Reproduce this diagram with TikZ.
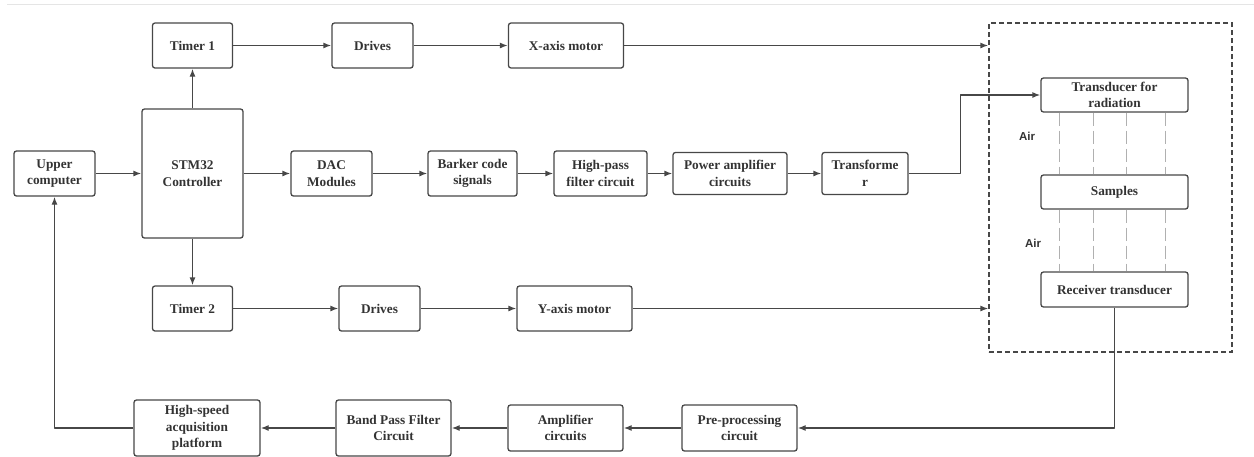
\documentclass[tikz,border=0pt]{standalone}
\usepackage{fontspec}
\setmainfont{Liberation Serif}
\newfontfamily\airfont{Liberation Sans}
\usetikzlibrary{arrows.meta}
\definecolor{linegray}{HTML}{474747}
\definecolor{textgray}{HTML}{333333}
\definecolor{airgray}{HTML}{B0B0B0}

\begin{document}
\begin{tikzpicture}[x=1pt,y=-1pt]
\tikzstyle{every node}+=[inner sep=0pt]
\tikzstyle{block}=[draw=linegray, line width=1.3pt, rounded corners=2.5pt, align=center, text=textgray, font=\fontsize{13.3}{16.5}\selectfont\bfseries]
\tikzstyle{link}=[draw=linegray, line width=1.3pt, line join=round, -{Latex[length=8pt,width=6pt]}]
\tikzstyle{airline}=[draw=airgray, line width=0.9pt, dash pattern=on 13pt off 5pt]
\tikzstyle{airtext}=[text=textgray, font=\airfont\fontsize{11.5}{13}\selectfont\bfseries]
\useasboundingbox (0,0) rectangle (1254,456);
\draw [black!10, line width=0.8pt] (7,4.5) -- (1254,4.5);
% top row
\node [block, minimum width=80pt, minimum height=45pt] (timer1) at (192.5,45.5) {Timer 1};
\node [block, minimum width=81pt, minimum height=45pt] (drives1) at (372.5,45.5) {Drives};
\node [block, minimum width=115pt, minimum height=45pt] (xmotor) at (566,45.5) {X-axis motor};
% middle row
\node [block, minimum width=81pt, minimum height=45pt] (upper) at (54.5,173.5) {Upper\\computer};
\node [block, minimum width=101pt, minimum height=129pt] (stm) at (192.5,173.5) {STM32\\Controller};
\node [block, minimum width=81pt, minimum height=45pt] (dac) at (331.5,173.5) {DAC\\Modules};
\node [block, minimum width=89pt, minimum height=45pt] (barker) at (472.5,173.5) {Barker code\\signals};
\node [block, minimum width=93pt, minimum height=45pt] (hpf) at (600.5,173.5) {High-pass\\filter circuit};
\node [block, minimum width=114pt, minimum height=42pt] (pamp) at (730,173.5) {Power amplifier\\circuits};
\node [block, minimum width=86pt, minimum height=42pt] (transf) at (865,173.5) {Transforme\\r};
% lower row
\node [block, minimum width=80pt, minimum height=45pt] (timer2) at (192.5,308.5) {Timer 2};
\node [block, minimum width=81pt, minimum height=45pt] (drives2) at (379.5,308.5) {Drives};
\node [block, minimum width=115pt, minimum height=45pt] (ymotor) at (574.5,308.5) {Y-axis motor};
% bottom row
\node [block, minimum width=126pt, minimum height=56pt] (hsap) at (197,428) {High-speed\\acquisition\\platform};
\node [block, minimum width=115pt, minimum height=56pt] (bpf) at (393.5,428) {Band Pass Filter\\Circuit};
\node [block, minimum width=115pt, minimum height=46pt] (amp) at (565.5,428) {Amplifier\\circuits};
\node [block, minimum width=115pt, minimum height=46pt] (pre) at (739.5,428) {Pre-processing\\circuit};
% test chamber
\node [draw=linegray, line width=1.3pt, dash pattern=on 5pt off 3pt, minimum width=243pt, minimum height=329pt] (chamber) at (1110.5,187.5) {};
\node [block, minimum width=147pt, minimum height=34pt] (emit) at (1114.5,95) {Transducer for\\radiation};
\node [block, minimum width=147pt, minimum height=34pt] (sample) at (1114.5,192) {Samples};
\node [block, minimum width=147pt, minimum height=35pt] (recv) at (1114.5,289.5) {Receiver transducer};
\node [airtext] (air1) at (1027,136) {Air};
\node [airtext] (air2) at (1033,243) {Air};
\foreach \xx in {1059,1093,1126,1165} {
  \draw [airline] (emit.south -| \xx,0) -- (sample.north -| \xx,0);
  \draw [airline] (sample.south -| \xx,0) -- (recv.north -| \xx,0);
}
% connections
\draw [link] (timer1) -- (drives1);
\draw [link] (drives1) -- (xmotor);
\draw [link] (xmotor.east) -- (xmotor.east -| chamber.west);
\draw [link] (stm.north) -- (timer1.south);
\draw [link] (stm.south) -- (timer2.north);
\draw [link] (upper) -- (stm);
\draw [link] (stm) -- (dac);
\draw [link] (dac) -- (barker);
\draw [link] (barker) -- (hpf);
\draw [link] (hpf) -- (pamp);
\draw [link] (pamp) -- (transf);
\draw [link] (transf.east) -- ++(52,0) |- (emit.west);
\draw [link] (timer2) -- (drives2);
\draw [link] (drives2) -- (ymotor);
\draw [link] (ymotor.east) -- (ymotor.east -| chamber.west);
\draw [link] (recv.south) |- (pre.east);
\draw [link] (pre) -- (amp);
\draw [link] (amp) -- (bpf);
\draw [link] (bpf) -- (hsap);
\draw [link] (hsap.west) -| (upper.south);
\end{tikzpicture}
\end{document}
